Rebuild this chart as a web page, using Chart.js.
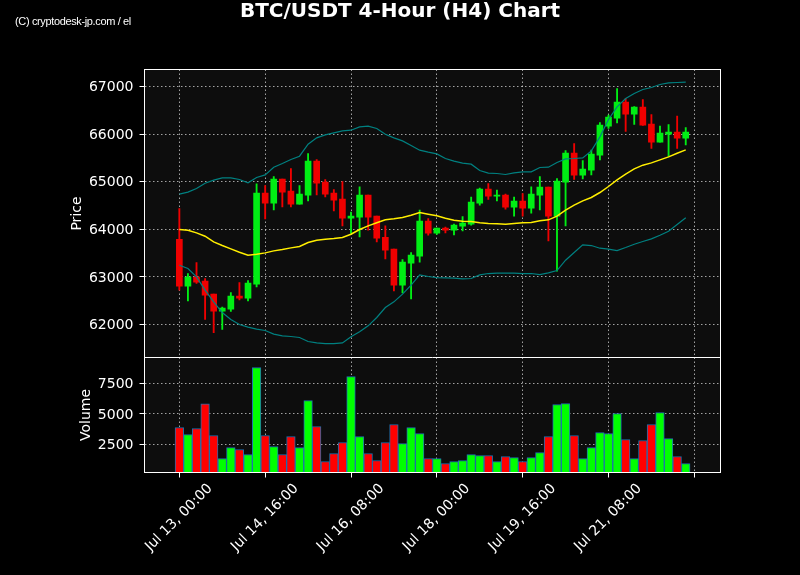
<!DOCTYPE html>
<html>
<head>
<meta charset="utf-8">
<title>BTC/USDT 4-Hour (H4) Chart</title>
<script src="https://cdn.jsdelivr.net/npm/chart.js@4"></script>
<style>
  html, body { margin: 0; padding: 0; background: #000; }
  #wrap { position: relative; width: 800px; height: 575px; overflow: hidden; }
  #heading {
    position: absolute; left: 0; top: -2px; width: 800px; text-align: center; color: #fff;
    font: bold 20px/24px "DejaVu Sans", sans-serif; white-space: nowrap;
  }
  #credit {
    position: absolute; left: 15px; top: 15px; color: #fff;
    font: 11px "Liberation Sans", sans-serif; letter-spacing: -0.36px; white-space: nowrap;
  }
</style>
</head>
<body>
<div id="wrap">
  <canvas id="chart" width="800" height="575"></canvas>
  <div id="heading">BTC/USDT 4-Hour (H4) Chart</div>
  <div id="credit">(C) cryptodesk-jp.com / el</div>
</div>
<script>
// Values
const xTickValues = [0, 10, 20, 30, 40, 50, 60];
const xTickLabels = ["Jul 13, 00:00", "Jul 14, 16:00", "Jul 16, 08:00", "Jul 18, 00:00", "Jul 19, 16:00", "Jul 21, 08:00", ""];
const priceTicks = [62000, 63000, 64000, 65000, 66000, 67000];
const volumeTicks = [2500, 5000, 7500];

const opens = [63792, 62805, 62994, 62910, 62637, 62280, 62322, 62595, 62553, 62847,
  64759, 64549, 65053, 64801, 64528, 64717, 65431, 64990, 64759, 64633,
  64234, 64255, 64717, 64276, 63834, 63582, 62826, 63288, 63435, 64171,
  63918, 64024, 63982, 64066, 64108, 64549, 64843, 64696, 64717, 64465,
  64591, 64444, 64717, 64885, 64276, 64990, 65599, 65137, 65242, 65557,
  66166, 66335, 66671, 66419, 66566, 66209, 65830, 65998, 66041, 65914];
const highs = [64437, 63071, 63302, 62966, 62637, 62364, 62672, 62882, 62924, 64955,
  64920, 65109, 65053, 65277, 64920, 65592, 65466, 65046, 64836, 65004,
  64360, 64892, 64717, 64276, 64073, 63582, 63365, 63512, 64402, 64227,
  64024, 64045, 64108, 64269, 64675, 64864, 64962, 64822, 64738, 64675,
  64752, 64892, 65109, 64885, 65067, 65655, 65802, 65445, 65662, 66243,
  66398, 66958, 66748, 66580, 66727, 66412, 66166, 66201, 66377, 66138];
const lows = [62721, 62497, 62861, 62105, 61831, 61895, 62273, 62518, 62497, 62791,
  64220, 64409, 64472, 64472, 64528, 64598, 64724, 64682, 64388, 64073,
  63911, 63841, 63982, 63736, 63379, 62707, 62665, 62539, 63309, 63876,
  63890, 63925, 63883, 63967, 64087, 64507, 64626, 64598, 64423, 64276,
  64276, 64339, 64409, 63757, 63120, 64073, 65046, 65060, 65144, 65459,
  66117, 66236, 66054, 66201, 66180, 65697, 65830, 65536, 65697, 65774];
const closes = [62805, 62994, 62889, 62616, 62280, 62343, 62595, 62553, 62868, 64759,
  64549, 65053, 64780, 64528, 64738, 65431, 64969, 64738, 64612, 64234,
  64276, 64717, 64255, 63813, 63561, 62826, 63309, 63456, 64171, 63918,
  64024, 63982, 64087, 64129, 64570, 64843, 64696, 64717, 64465, 64591,
  64444, 64738, 64885, 64276, 65011, 65599, 65137, 65263, 65578, 66188,
  66356, 66671, 66419, 66566, 66188, 65830, 66020, 66041, 65914, 66041];

const middleBand = [63995, 63981, 63925, 63855, 63736, 63659, 63589, 63519, 63456, 63477,
  63505, 63547, 63575, 63610, 63638, 63722, 63771, 63792, 63806, 63827,
  63897, 63995, 64073, 64136, 64199, 64220, 64248, 64297, 64353, 64318,
  64283, 64234, 64192, 64171, 64164, 64136, 64122, 64115, 64108, 64122,
  64136, 64143, 64178, 64199, 64276, 64402, 64507, 64598, 64668, 64773,
  64899, 65039, 65158, 65270, 65347, 65396, 65459, 65522, 65599, 65669];
const upperBand = [64738, 64780, 64857, 64969, 65032, 65081, 65081, 65046, 64976, 65088,
  65144, 65305, 65382, 65466, 65536, 65788, 65921, 65984, 66026, 66068,
  66082, 66152, 66166, 66117, 65998, 65921, 65858, 65760, 65662, 65620,
  65585, 65487, 65431, 65389, 65368, 65235, 65179, 65172, 65151, 65186,
  65207, 65207, 65298, 65305, 65403, 65480, 65487, 65501, 65648, 65942,
  66306, 66573, 66748, 66853, 66937, 66979, 67042, 67077, 67084, 67091];
const lowerBand = [63246, 63176, 63001, 62721, 62476, 62252, 62105, 62000, 61944, 61902,
  61874, 61797, 61762, 61748, 61727, 61643, 61614, 61600, 61600, 61614,
  61741, 61846, 61972, 62147, 62357, 62476, 62637, 62826, 63043, 63008,
  62987, 62980, 62973, 62959, 62966, 63043, 63071, 63078, 63078, 63078,
  63071, 63071, 63050, 63085, 63134, 63351, 63512, 63673, 63659, 63603,
  63582, 63554, 63617, 63687, 63743, 63799, 63876, 63960, 64101, 64241];

const volumes = [3893, 3320, 3811, 5833, 3238, 1353, 2254, 2090, 1681, 8811,
  3238, 2336, 1681, 3156, 2254, 6106, 3975, 1107, 1762, 2664,
  8073, 3156, 1762, 1189, 2664, 4139, 2582, 3893, 3402, 1353,
  1353, 943, 1107, 1189, 1681, 1598, 1598, 1107, 1516, 1435,
  1107, 1435, 1844, 3156, 5778, 5860, 3238, 1353, 2254, 3484,
  3402, 5041, 2910, 1353, 2828, 4139, 5123, 2992, 1516, 943];

const UP = "#00ee14";
const DOWN = "#f00000";
const VOL_UP = "#00ff00";
const VOL_DOWN = "#ff0000";

const isUp = (i) => closes[i] >= opens[i];
const candleColor = (c) => (isUp(c.dataIndex) ? UP : DOWN);
const volumeColor = (c) => (isUp(c.dataIndex) ? VOL_UP : VOL_DOWN);

// x/y objects because the x axis is linear (it runs past both ends of the data)
const points = (values) => values.map((v, i) => ({ x: i, y: v }));
const ranges = (a, b) => a.map((v, i) => ({ x: i, y: [v, b[i]] }));

// stepSize misbehaves with a fixed min/max, so ticks come straight from the arrays
const fixedTicks = (values) => (scale) => {
  scale.ticks = values.map((value) => ({ value }));
};

function bandLine(label, values, color, width) {
  return {
    type: "line", label, data: points(values), yAxisID: "y", order: 0,
    borderColor: color, borderWidth: width, pointRadius: 0, tension: 0,
  };
}

// Panel background, spines and the divider between price and volume
const framePlugin = {
  id: "frame",
  beforeDraw(chart) {
    const { ctx, chartArea: a } = chart;
    ctx.save();
    ctx.fillStyle = "#000";
    ctx.fillRect(0, 0, chart.width, chart.height);
    ctx.fillStyle = "#0d0d0d";
    ctx.fillRect(a.left, a.top, a.right - a.left, a.bottom - a.top);
    ctx.restore();
  },
  afterDatasetsDraw(chart) {
    const { ctx, chartArea: a, scales } = chart;
    ctx.save();
    ctx.strokeStyle = "#fff";
    ctx.lineWidth = 1;
    ctx.strokeRect(a.left, a.top, a.right - a.left, a.bottom - a.top);
    ctx.beginPath();
    ctx.moveTo(a.left, scales.y.bottom);
    ctx.lineTo(a.right, scales.y.bottom);
    ctx.stroke();
    ctx.restore();
  },
};

const gridStyle = {
  color: "rgba(255,255,255,0.62)", lineWidth: 1, offset: false,
  tickColor: "#fff", tickLength: 5, tickWidth: 1,
};
const gridBorder = { display: false, dash: [1.5, 2.5] };
const axisFont = { size: 14 };

Chart.defaults.font.family = "'DejaVu Sans', sans-serif";
Chart.defaults.color = "#fff";

new Chart(document.getElementById("chart"), {
  type: "bar",
  data: {
    datasets: [
      bandLine("Upper", upperBand, "#008080", 1.2),
      bandLine("Lower", lowerBand, "#008080", 1.2),
      bandLine("SMA", middleBand, "#ffee00", 1.5),
      {
        label: "Body", data: ranges(opens, closes), yAxisID: "y", order: 1,
        backgroundColor: candleColor, barThickness: 6, grouped: false,
      },
      {
        label: "Wick", data: ranges(lows, highs), yAxisID: "y", order: 2,
        backgroundColor: candleColor, barThickness: 1.2, grouped: false,
      },
      {
        label: "Volume", data: points(volumes), yAxisID: "yVol", order: 3,
        backgroundColor: volumeColor, borderColor: "#1f70b0", borderWidth: 1,
        barThickness: 8.6, grouped: false,
      },
    ],
  },
  options: {
    responsive: false,
    animation: false,
    layout: { padding: { left: 0, right: 79.5, top: 69.5, bottom: 0 } },
    plugins: {
      legend: { display: false },
      tooltip: { enabled: false },
    },
    scales: {
      x: {
        type: "linear", min: -4.06, max: 63.05, offset: false,
        grid: gridStyle, border: gridBorder,
        afterBuildTicks: fixedTicks(xTickValues),
        afterFit(scale) { scale.height = 102.5; },
        ticks: {
          autoSkip: false, minRotation: 45, maxRotation: 45,
          labelOffset: 31, padding: 3,
          font: axisFont, color: "#fff",
          callback: (v) => xTickLabels[xTickValues.indexOf(v)],
        },
      },
      yVol: {
        type: "linear", position: "left", stack: "panels", stackWeight: 115,
        min: 205, max: 9631,
        grid: gridStyle, border: gridBorder,
        afterBuildTicks: fixedTicks(volumeTicks),
        afterFit(scale) { scale.width = 144.5; },
        title: { display: true, text: "Volume", font: axisFont, color: "#fff", padding: { top: 78, bottom: 0 } },
        ticks: { padding: 6, labelOffset: 1, font: axisFont, color: "#fff", callback: (v) => String(v) },
      },
      y: {
        type: "linear", position: "left", stack: "panels", stackWeight: 288,
        min: 61307, max: 67357,
        grid: gridStyle, border: gridBorder,
        afterBuildTicks: fixedTicks(priceTicks),
        afterFit(scale) { scale.width = 144.5; },
        title: { display: true, text: "Price", font: axisFont, color: "#fff", padding: { top: 69, bottom: 0 } },
        ticks: { padding: 6, labelOffset: 1, font: axisFont, color: "#fff", callback: (v) => String(v) },
      },
    },
  },
  plugins: [framePlugin],
});
</script>
</body>
</html>
